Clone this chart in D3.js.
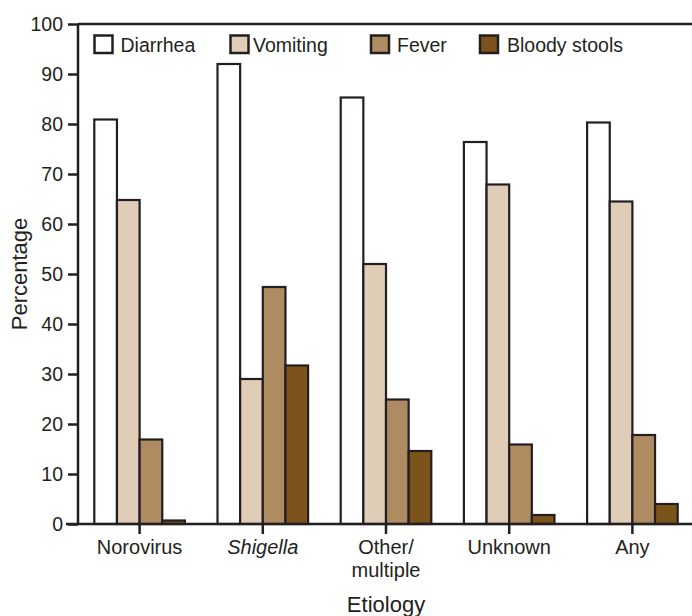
<!DOCTYPE html>
<html><head><meta charset="utf-8">
<script src="https://cdn.jsdelivr.net/npm/d3@7"></script>
<style>html,body{margin:0;padding:0;background:#fff}svg{display:block}text{font-family:"Liberation Sans",Arial,sans-serif;fill:#231f20}</style>
</head><body><svg id="c" width="692" height="616"></svg>
<script>
const categories = ["Norovirus", "Shigella", "Other/multiple", "Unknown", "Any"];
const seriesNames = ["Diarrhea", "Vomiting", "Fever", "Bloody stools"];
const diarrhea = [80.9, 92.0, 85.3, 76.4, 80.3];
const vomiting = [64.8, 29.0, 52.0, 67.9, 64.5];
const fever = [16.9, 47.4, 24.9, 15.9, 17.8];
const bloody = [0.7, 31.7, 14.6, 1.8, 4.0];
const yTicks = [0, 10, 20, 30, 40, 50, 60, 70, 80, 90, 100];
const colors = ["#ffffff", "#dfcdb7", "#ae8b60", "#7b531b"];
const ink = "#231f20";

const series = [diarrhea, vomiting, fever, bloody];
const svg = d3.select("#c");
const x0 = d3.scaleBand().domain(categories).range([78, 694]).paddingInner(0).paddingOuter(0);
const x1 = d3.scaleBand().domain(seriesNames).range([16.3, x0.bandwidth() - 16.3]);
const y = d3.scaleLinear().domain([0, 100]).range([524, 24]);

// bars
const g = svg.append("g");
categories.forEach((c, ci) => {
  seriesNames.forEach((s, si) => {
    const v = series[si][ci];
    g.append("rect")
      .attr("x", x0(c) + x1(s))
      .attr("y", y(v))
      .attr("width", x1.bandwidth())
      .attr("height", y(0) - y(v))
      .attr("fill", colors[si])
      .attr("stroke", ink)
      .attr("stroke-width", 2.2);
  });
});

// y axis
const ya = svg.append("g").attr("transform", "translate(78,0)")
  .call(d3.axisLeft(y).tickValues(yTicks).tickSize(10).tickPadding(5));
ya.select(".domain").attr("stroke", ink).attr("stroke-width", 2.5).attr("d", "M0,24V524");
ya.selectAll(".tick line").attr("stroke", ink).attr("stroke-width", 2.5);
ya.selectAll(".tick text").style("font-size", "19.5px").attr("fill", ink).attr("dy", "0.34em");

// top line
svg.append("line").attr("x1", 78).attr("x2", 692).attr("y1", y(100)).attr("y2", y(100))
  .attr("stroke", ink).attr("stroke-width", 2.5);

// x axis
const xa = svg.append("g").attr("transform", "translate(0,524)")
  .call(d3.axisBottom(x0).tickSize(10).tickFormat(""));
xa.select(".domain").attr("stroke", ink).attr("stroke-width", 2.5).attr("d", "M66,0H692");
xa.selectAll(".tick line").attr("stroke", ink).attr("stroke-width", 2.5);

categories.forEach(c => {
  const cx = x0(c) + x0.bandwidth() / 2;
  const t = svg.append("text").attr("x", cx).attr("y", 554).attr("text-anchor", "middle").style("font-size", "20px");
  if (c === "Shigella") t.style("font-style", "italic").text(c);
  else if (c === "Other/multiple") {
    t.append("tspan").attr("x", cx).attr("y", 554).text("Other/");
    t.append("tspan").attr("x", cx).attr("y", 577).text("multiple");
  } else t.text(c);
});

// axis titles
svg.append("text").attr("x", 386).attr("y", 612).attr("text-anchor", "middle").style("font-size", "22px").text("Etiology");
svg.append("text").attr("transform", "translate(27,274) rotate(-90)").attr("text-anchor", "middle").style("font-size", "22px").text("Percentage");

// legend
const legBoxX = [94.5, 230.5, 371, 480];
const legTextX = [120.5, 253, 397, 507];
seriesNames.forEach((s, i) => {
  svg.append("rect").attr("x", legBoxX[i]).attr("y", 35.5).attr("width", 18).attr("height", 17.5)
    .attr("fill", colors[i]).attr("stroke", ink).attr("stroke-width", 2.5);
  svg.append("text").attr("x", legTextX[i]).attr("y", 51.5).style("font-size", "19.5px").text(s);
});
</script></body></html>
